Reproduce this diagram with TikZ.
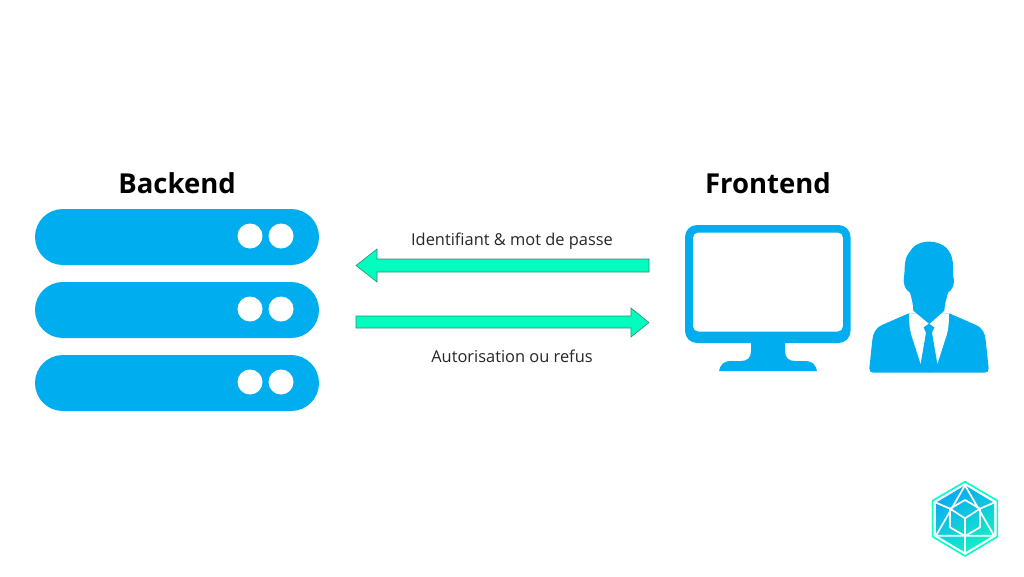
\documentclass[tikz,border=0pt]{standalone}
\usepackage{fontspec}
\setmainfont{Open Sans}
\definecolor{skyblue}{HTML}{00AEEF}
\definecolor{mint}{HTML}{00FFBF}
\definecolor{mintedge}{HTML}{2E8B78}
\definecolor{logoblue}{HTML}{0AA8F5}
\definecolor{logoteal}{HTML}{14EFC4}
\tikzset{
  every node/.style={text=black!85, inner sep=0pt, outer sep=0pt},
  title/.style={font=\fontsize{27.5}{32}\selectfont\bfseries, text=black},
  caption/.style={font=\fontsize{16.4}{20}\selectfont},
  rack/.style={fill=skyblue, rounded corners=27.9pt},
  led/.style={fill=white, circle, minimum size=25pt},
  flow/.style={draw=mintedge, line width=0.6pt, fill=mint, line join=miter},
  logoline/.style={draw=white, line width=1.7pt, line join=round},
}
\begin{document}
\begin{tikzpicture}[x=1pt,y=-1pt]
\useasboundingbox (0,0) rectangle (1024,576);

% Titles
\node[title] (backendtitle) at (177,183) {Backend};
\node[title] (frontendtitle) at (768,183) {Frontend};

% Server rack
\foreach \top/\mid in {209/237,282/310,355/383}{
  \fill[rack] (35,\top) rectangle (319,\top+56);
  \node[led] (ledA\top) at (250,\mid-1) {};
  \node[led] (ledB\top) at (281,\mid-1) {};
}

% Request and response arrows
\coordinate (reqstart) at (649,265.5);
\coordinate (resstart) at (356,322);
\draw[flow] (reqstart) ++(0,-6.5) -- (377,259) -- (377,249) -- (356,265.5)
  -- (377,282) -- (377,272) -- (649,272) -- cycle;
\draw[flow] (resstart) ++(0,-6) -- (631,316) -- (631,308) -- (649,322.5)
  -- (631,337) -- (631,328) -- (356,328) -- cycle;
\node[caption] (reqlabel) at (512,241) {Identifiant \& mot de passe};
\node[caption] (reslabel) at (512,356) {Autorisation ou refus};

% Monitor
\fill[skyblue,even odd rule]
  [rounded corners=12pt] (685,225) rectangle (850.5,343)
  [rounded corners=5pt] (693,232.5) rectangle (843,331.5);
\fill[skyblue] (751,342) -- (785,342) -- (785,351)
  .. controls (785,358) and (789,361) .. (795,361) -- (806,361)
  .. controls (812,361) and (816,365) .. (817,371) -- (719,371)
  .. controls (720,365) and (724,361) .. (730,361) -- (741,361)
  .. controls (747,361) and (751,358) .. (751,351) -- cycle;

% Person silhouette
\begin{scope}[shift={(850,230)},x=0.3333pt,y=-0.3333pt]
  % jacket
  \fill[skyblue] (176,250) -- (298,250)
    -- (378,285) .. controls (398,295) and (405,310) .. (407,330)
    -- (416,415) .. controls (416,424) and (412,428) .. (404,428)
    -- (70,428) .. controls (62,428) and (58,424) .. (58,415)
    -- (67,330) .. controls (69,310) and (76,295) .. (96,285) -- cycle;
  % shirt
  \fill[white] (177,250) -- (297,250) .. controls (297,275) and (296,295) .. (290,315)
    -- (262,402) -- (237,380) -- (212,402) -- (184,315)
    .. controls (178,295) and (177,275) .. (177,250) -- cycle;
  % tie
  \fill[skyblue] (221,292) -- (237,281) -- (253,292) -- (246,308) -- (262,402)
    -- (238,428) -- (212,402) -- (228,308) -- cycle;
  % head and neck
  \fill[skyblue] (190,242)
    .. controls (190,225) and (186,210) .. (180,188)
    .. controls (168,180) and (158,165) .. (162,142)
    .. controls (165,125) and (162,105) .. (168,85)
    .. controls (172,72) and (180,66) .. (186,56)
    .. controls (200,38) and (225,34) .. (240,35)
    .. controls (270,36) and (295,50) .. (305,80)
    .. controls (312,100) and (307,125) .. (310,140)
    .. controls (318,160) and (305,182) .. (294,188)
    .. controls (288,210) and (284,225) .. (283,242)
    -- (238,282) -- cycle;
\end{scope}

% Corner logo
\begin{scope}[shift={(920,470)},x=0.3333pt,y=-0.3333pt]
  \draw[mint!85!cyan, line width=1.6pt, line join=round]
    (135,35) -- (232,92) -- (232,200) -- (135,258) -- (38,200) -- (38,92) -- cycle;
  \shade[top color=logoblue, bottom color=logoteal, shading angle=30]
    (135,46) -- (222,98) -- (222,195) -- (135,247) -- (48,195) -- (48,98) -- cycle;
  \draw[logoline] (135,46) -- (222,197) -- (48,197) -- cycle;
  \draw[logoline] (135,90) -- (180,116) -- (180,172) -- (135,198) -- (90,172) -- (90,116) -- cycle;
  \draw[logoline] (90,116) -- (135,145) -- (180,116) (135,145) -- (135,198);
  \draw[logoline] (48,98) -- (90,116) (222,98) -- (180,116) (135,198) -- (135,247);
\end{scope}
\end{tikzpicture}
\end{document}
